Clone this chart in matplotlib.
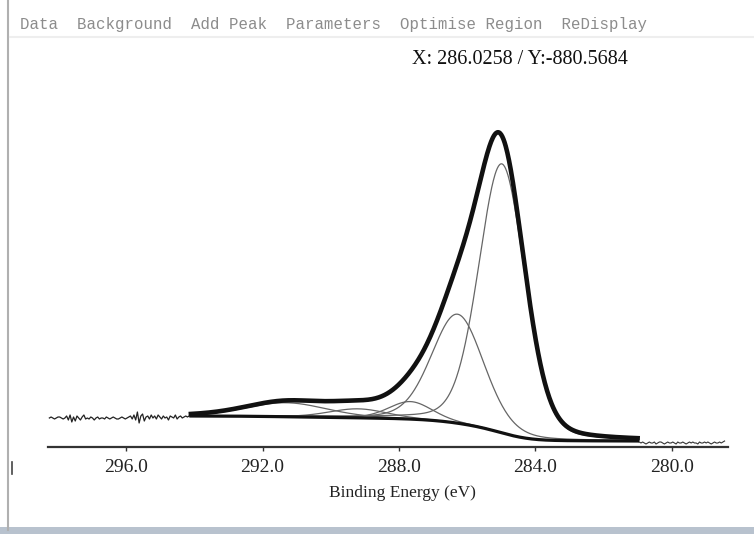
import matplotlib.pyplot as plt
import numpy as np
from matplotlib.lines import Line2D
from matplotlib.patches import Rectangle

W, H = 754, 534

# fitted C 1s components: centre (eV), height above background (counts), FWHM (eV)
peak_centers = [284.98, 286.28, 287.66, 289.2, 291.3]
peak_heights = [26900, 10900, 1750, 900, 1400]
peak_fwhm = [1.6, 1.8, 1.5, 2.0, 2.8]
lorentz_frac = 0.2

# fit region and Shirley end points
region_hi, region_lo = 294.1, 281.0
bg_hi, bg_lo = 3100, 600

# raw data outside the fit region
raw_left = [
    2900, 3000, 2900, 2800, 2900, 3000, 3000, 2900, 2800, 2900,
    3100, 2700, 3200, 2500, 3000, 2600, 3100, 2900, 2700, 3000, 3200, 2800,
    2900, 2800, 3000, 2900, 2700, 2900, 3000, 2800, 2900, 2900, 2800, 3000, 2900,
    2800, 2900, 3000, 2900, 2800, 2800, 2900, 3000, 2900, 2800, 2900, 3000, 3100,
    2800, 3200, 2700, 3500, 2400, 3100, 3300, 2600, 3000, 3100, 2800, 3200,
    2900, 3100, 2800, 3200, 3000, 2800, 3100, 2900, 3000, 2700, 3100, 3000,
    2900, 3200, 2800, 3000, 3100, 2900, 3000, 3100, 3000, 3100,
]
raw_right = [
    600, 500, 400, 500, 400, 300, 400, 500, 400, 400, 500, 300, 400, 500, 500,
    400, 300, 400, 500, 400, 400, 500, 400, 300, 500, 400, 400, 500, 400, 300,
    400, 500, 400, 500, 400, 400, 300, 500, 400, 400, 500, 400, 500, 400, 300,
    400, 500, 400, 400, 500, 400, 500, 600,
]
be_left = np.linspace(298.25, 294.15, len(raw_left))
be_right = np.linspace(281.0, 278.45, len(raw_right))

xticks = [296.0, 292.0, 288.0, 284.0, 280.0]
menu_text = "Data  Background  Add Peak  Parameters  Optimise Region  ReDisplay"
cursor_text = "X: 286.0258 / Y:-880.5684"


def gl(x, c, h, w, m):
    d = (x - c) / w
    return h * ((1 - m) * np.exp(-4 * np.log(2) * d ** 2) + m / (1 + 4 * d ** 2))


be = np.linspace(region_hi, region_lo, 800)
comps = [gl(be, c, h, w, lorentz_frac)
         for c, h, w in zip(peak_centers, peak_heights, peak_fwhm)]
total = np.sum(comps, axis=0)

# Shirley background from the integrated fit
cum = np.cumsum(total[::-1])[::-1]
bg = bg_lo + (bg_hi - bg_lo) * (cum - cum[-1]) / (cum[0] - cum[-1])

fig = plt.figure(figsize=(W / 100, H / 100), dpi=100)
ax = fig.add_axes([48 / W, 1 - 447 / H, 680 / W, 347 / H])

ax.plot(be_left, raw_left, color="#222222", lw=0.9)
ax.plot(be_right, raw_right, color="#333333", lw=0.8)
for comp in comps:
    ax.plot(be, bg + comp, color="#666666", lw=0.9)
ax.plot(be, bg, color="#111111", lw=2.3)
ax.plot(be, bg + total, color="#111111", lw=3.3)

ax.set_xlim(298.29, 278.35)
ax.set_ylim(0, 34700)
ax.set_xticks(xticks)
ax.set_xticklabels([f"{v:.1f}" for v in xticks],
                   fontfamily="Liberation Serif", fontsize=14, color="#222222")
ax.tick_params(axis="x", direction="out", length=3, width=1, pad=6,
               color="#333333")
ax.set_yticks([])
for s in ["top", "right", "left"]:
    ax.spines[s].set_visible(False)
ax.spines["bottom"].set_color("#333333")
ax.spines["bottom"].set_linewidth(1.6)

fig.text(402 / W, 1 - 493 / H, "Binding Energy (eV)", ha="center", va="center",
         fontfamily="Liberation Serif", fontsize=12.5, color="#222222")
fig.text(20 / W, 1 - 25 / H, menu_text, ha="left", va="center",
         fontfamily="Liberation Mono", fontsize=11.3, color="#8c8c8c")
fig.text(412 / W, 1 - 60 / H, cursor_text, ha="left", va="center",
         fontfamily="Liberation Serif", fontsize=14.5, color="#111111")

# window frame bits
fig.add_artist(Line2D([8 / W, 8 / W], [4 / H, 1], color="#b0b0b0", lw=1.5))
fig.add_artist(Line2D([12 / W, 12 / W], [1 - 474 / H, 1 - 462 / H],
                      color="#444444", lw=1.2))
fig.add_artist(Line2D([10 / W, 1], [1 - 37 / H, 1 - 37 / H],
                      color="#eeeeee", lw=1.5))
fig.add_artist(Rectangle((0, 0), 1, 7 / H, transform=fig.transFigure,
                         color="#b8c2ce", lw=0))

fig.savefig("out.png", dpi=100)
